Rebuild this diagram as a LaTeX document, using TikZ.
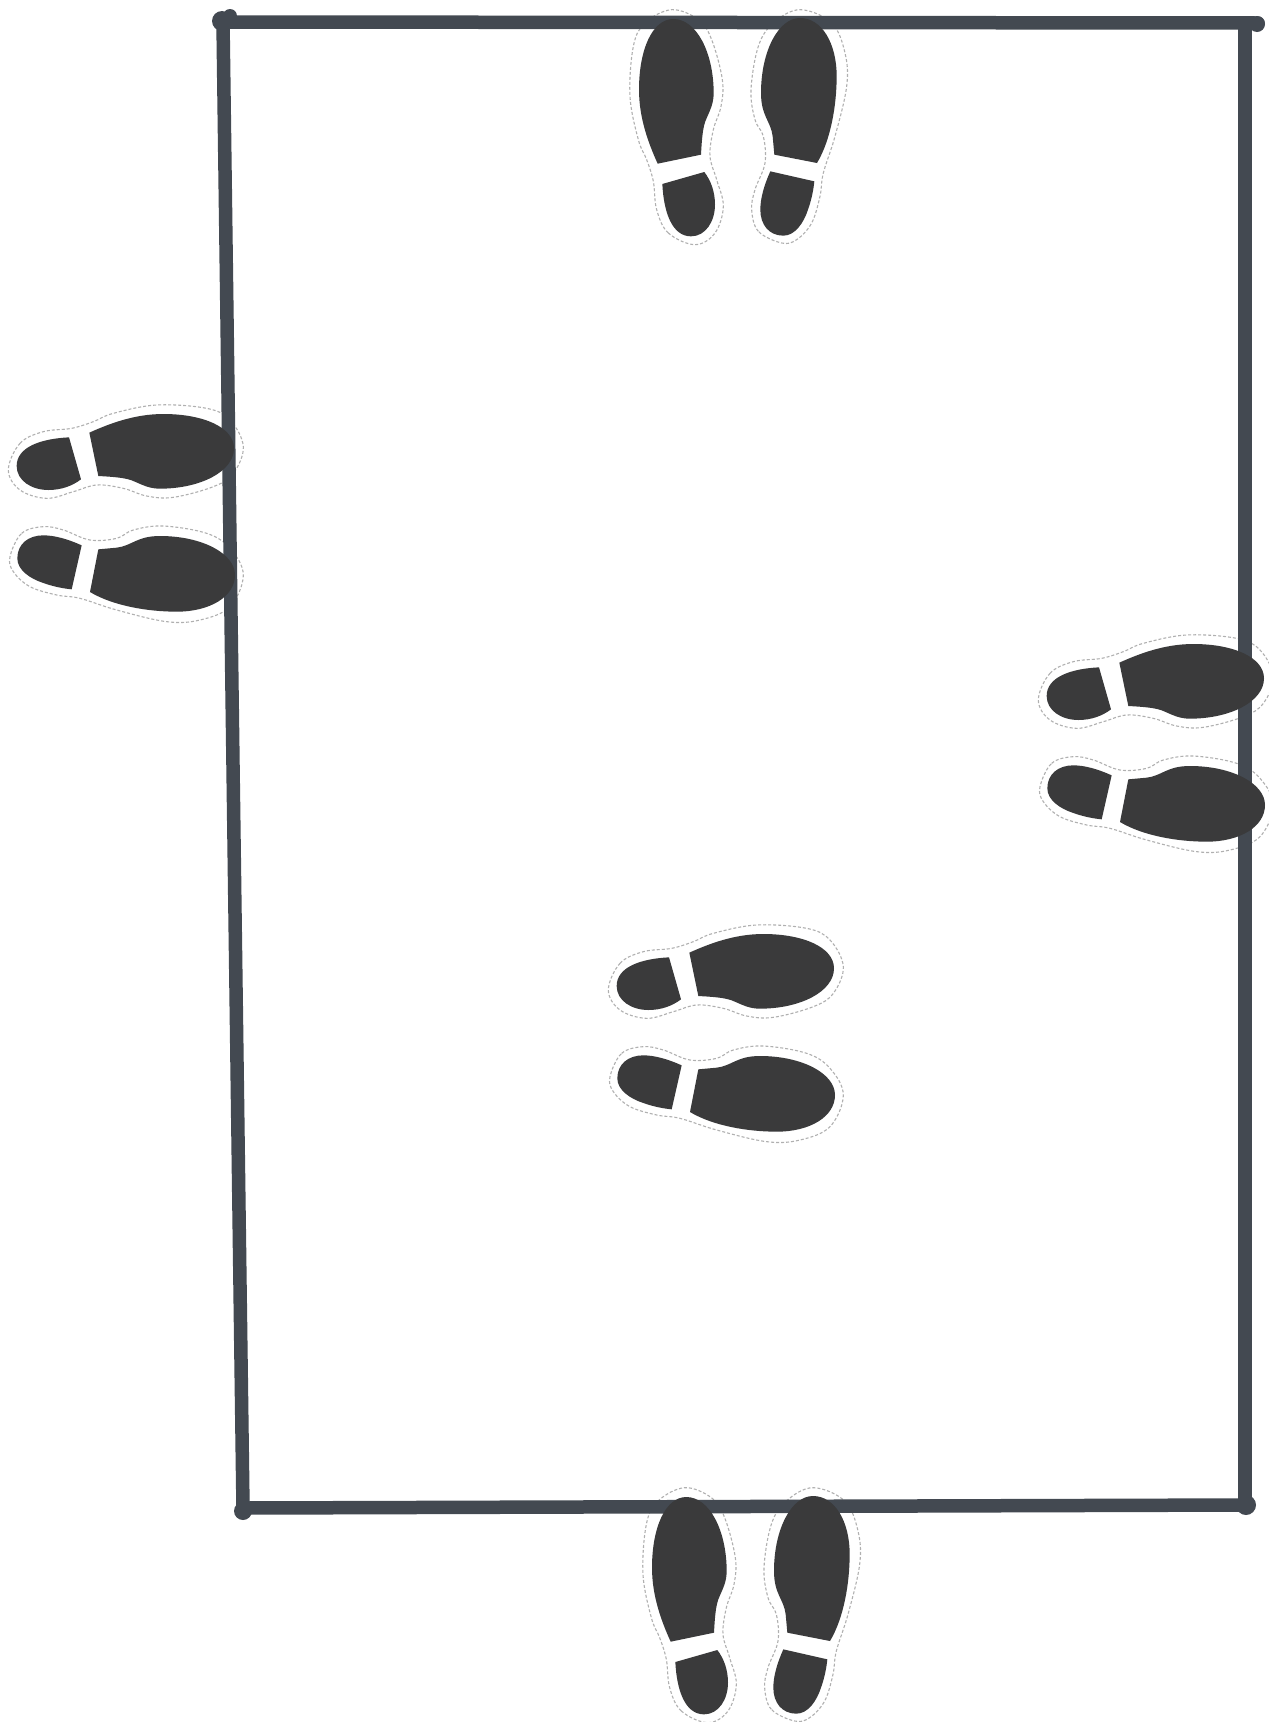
\documentclass[tikz,border=0pt]{standalone}
\definecolor{soleink}{HTML}{3A3A3B}
\definecolor{frameink}{HTML}{434951}
\definecolor{cutline}{HTML}{B0B0B0}
\tikzset{
  x=1pt,y=-1pt,
  frameline/.style={draw=frameink,line width=13.5pt,line cap=round},
  frameblob/.style={fill=frameink},
  solefill/.style={fill=soleink},
  cutoutline/.style={draw=cutline,line width=1.1pt,dash pattern=on 3pt off 2pt},
}
\newcommand{\pairoutline}[3]{%
\begin{scope}[shift={(#1,#2)},rotate=#3,scale=1/3]
\draw[cutoutline] plot[smooth cycle,tension=0.6] coordinates {(25,240)(60,160)(130,125)(215,115)(280,95)(340,70)(470,45)(620,55)(690,90)(730,170)(700,250)(640,290)(520,322)(440,318)(370,295)(290,285)(220,305)(140,325)(60,300)};
\draw[cutoutline] plot[smooth cycle,tension=0.6] coordinates {(30,500)(65,430)(130,410)(190,420)(270,450)(350,445)(400,420)(490,408)(620,430)(690,475)(730,555)(690,650)(600,690)(500,695)(350,660)(240,625)(170,615)(90,590)(40,545)};
\end{scope}}
\newcommand{\pairsoles}[3]{%
\begin{scope}[shift={(#1,#2)},rotate=#3,scale=1/3]
\fill[solefill] (268,128) .. controls (330,100) and (405,72) .. (490,72) .. controls (610,72) and (702,112) .. (702,175) .. controls (702,245) and (600,296) .. (480,296) .. controls (445,296) and (425,283) .. (395,271) .. controls (370,262) and (330,260) .. (295,258) -- cycle;
\fill[solefill] (207,142) .. controls (125,146) and (50,170) .. (50,228) .. controls (50,272) and (95,300) .. (145,300) .. controls (185,300) and (218,287) .. (243,268) -- cycle;
\fill[solefill] (295,478) -- (350,473) .. controls (395,468) and (410,438) .. (480,438) .. controls (605,438) and (705,490) .. (705,555) .. controls (705,620) and (630,665) .. (530,665) .. controls (445,665) and (340,648) .. (270,606) -- cycle;
\fill[solefill] (245,466) .. controls (205,448) and (165,436) .. (130,436) .. controls (85,436) and (52,462) .. (52,505) .. controls (52,540) and (90,566) .. (130,579) .. controls (155,588) and (185,595) .. (215,598) -- cycle;
\end{scope}}
\begin{document}
\begin{tikzpicture}
\useasboundingbox[fill=white] (0,0) rectangle (1269,1722);
\foreach \px/\py/\pr in {600/910/0,0/390/0,1030/620/0,615/253/90,628/1731/90}{
  \pairoutline{\px}{\py}{\pr}
}
\coordinate (tl) at (223,22);
\coordinate (tr) at (1258,23);
\coordinate (trv) at (1245,24);
\coordinate (br) at (1245,1505);
\coordinate (bl) at (243,1508);
\draw[frameline] (tl) -- (tr);
\draw[frameline] (trv) -- (br);
\draw[frameline] (bl) -- (br);
\draw[frameline] (tl) -- (bl);
\fill[frameblob] (222,21) circle (10);
\fill[frameblob] (230,16) circle (7);
\fill[frameblob] (1257,24) circle (8);
\fill[frameblob] (243,1511) circle (9);
\fill[frameblob] (1246,1505) circle (10);
\foreach \px/\py/\pr in {600/910/0,0/390/0,1030/620/0,615/253/90,628/1731/90}{
  \pairsoles{\px}{\py}{\pr}
}
\end{tikzpicture}
\end{document}
